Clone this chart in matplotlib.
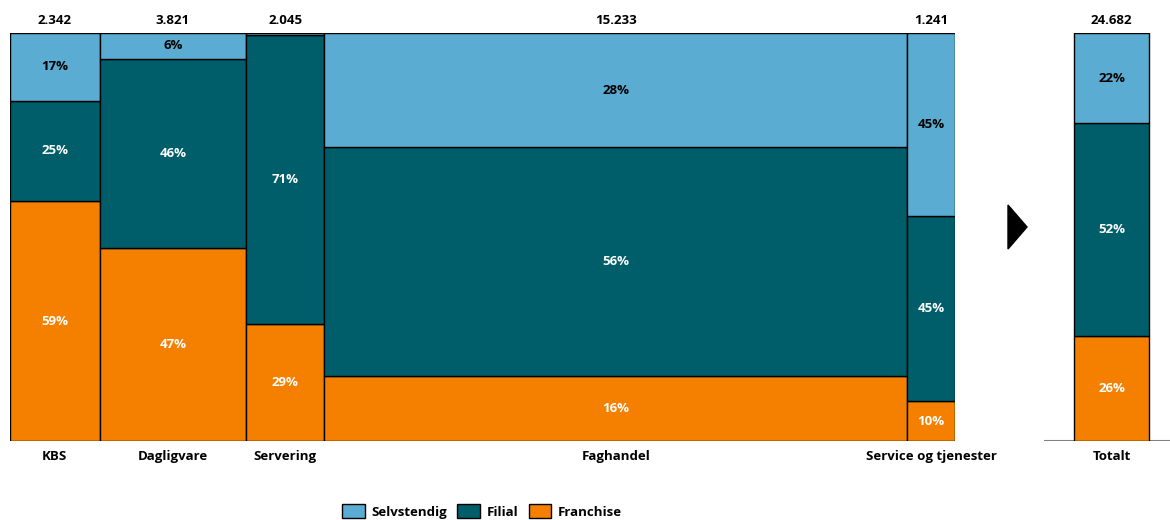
import matplotlib
matplotlib.use("Agg")
import matplotlib.pyplot as plt
from matplotlib.patches import Polygon, Patch
import numpy as np

plt.rcParams['font.family'] = ['Open Sans', 'DejaVu Sans']

categories = ["KBS", "Dagligvare", "Servering", "Faghandel", "Service og tjenester"]
totals = [2342, 3821, 2045, 15233, 1241]
franchise = [58.8, 47.3, 28.7, 15.9, 9.8]
filial = [24.6, 46.4, 70.8, 56.1, 45.3]
selvstendig = [16.6, 6.3, 0.5, 28.0, 44.9]

total_label = "Totalt"
total_value = 24682
total_shares = {"Franchise": 25.7, "Filial": 52.2, "Selvstendig": 22.1}

series_names = ["Franchise", "Filial", "Selvstendig"]
colors = {"Selvstendig": "#5BACD2", "Filial": "#005E6A", "Franchise": "#F58000"}
text_colors = {"Selvstendig": "black", "Filial": "white", "Franchise": "white"}

FS = 9.5

def fmt(v):
    return f"{v:,}".replace(",", ".")

W, H = 1170, 520
fig = plt.figure(figsize=(W / 100, H / 100), dpi=100)

# main mosaic axes
ax = fig.add_axes([10 / W, (H - 441) / H, 945 / W, 408 / H])
ax.set_xlim(0, sum(totals))
ax.set_ylim(0, 100)
ax.axis("off")

series = {"Franchise": franchise, "Filial": filial, "Selvstendig": selvstendig}
lefts = np.concatenate([[0], np.cumsum(totals)[:-1]])
for i, cat in enumerate(categories):
    bottom = 0
    w = totals[i]
    x0 = lefts[i]
    for s in series_names:
        v = series[s][i]
        ax.bar(x0, v, width=w, bottom=bottom, align="edge", color=colors[s],
               edgecolor="black", linewidth=1.0)
        if v >= 3:
            ax.text(x0 + w / 2, bottom + v / 2, f"{round(v)}%", ha="center", va="center",
                    color=text_colors[s], fontsize=FS, fontweight="bold")
        bottom += v
    ax.text(x0 + w / 2, 101.5, fmt(totals[i]), ha="center", va="bottom",
            fontsize=FS, fontweight="bold", color="black")
    ax.text(x0 + w / 2, -2.3, cat, ha="center", va="top",
            fontsize=FS, fontweight="bold", color="black")

# total axes
ax2 = fig.add_axes([1044 / W, (H - 441) / H, 126 / W, 408 / H])
ax2.set_xlim(0, 1)
ax2.set_ylim(0, 100)
ax2.axis("off")
bx0, bw = 0.238, 0.595
bottom = 0
for s in series_names:
    v = total_shares[s]
    ax2.bar(bx0, v, width=bw, bottom=bottom, align="edge", color=colors[s],
            edgecolor="black", linewidth=1.0, zorder=2)
    ax2.text(bx0 + bw / 2, bottom + v / 2, f"{round(v)}%", ha="center", va="center",
             color=text_colors[s], fontsize=FS, fontweight="bold", zorder=3)
    bottom += v
ax2.axhline(0, color="#808080", linewidth=1.5, zorder=1)
ax2.text(bx0 + bw / 2, 101.5, fmt(total_value), ha="center", va="bottom",
         fontsize=FS, fontweight="bold", color="black")
ax2.text(bx0 + bw / 2, -2.3, total_label, ha="center", va="top",
         fontsize=FS, fontweight="bold", color="black")

# arrow triangle
tri = Polygon([[1008 / W, (H - 205) / H], [1008 / W, (H - 249) / H], [1027 / W, (H - 227) / H]],
              closed=True, transform=fig.transFigure, color="black")
fig.add_artist(tri)

# legend
handles = [Patch(facecolor=colors[s], edgecolor="black", linewidth=1.0, label=s)
           for s in ["Selvstendig", "Filial", "Franchise"]]
leg = fig.legend(handles=handles, loc="upper center", bbox_to_anchor=(482 / W, 16 / H),
                 ncol=3, frameon=False, prop={"weight": "bold", "size": FS},
                 handlelength=1.7, handleheight=1.3, columnspacing=0.8, handletextpad=0.5,
                 borderpad=0, borderaxespad=0)

fig.savefig("out.png", dpi=100)
